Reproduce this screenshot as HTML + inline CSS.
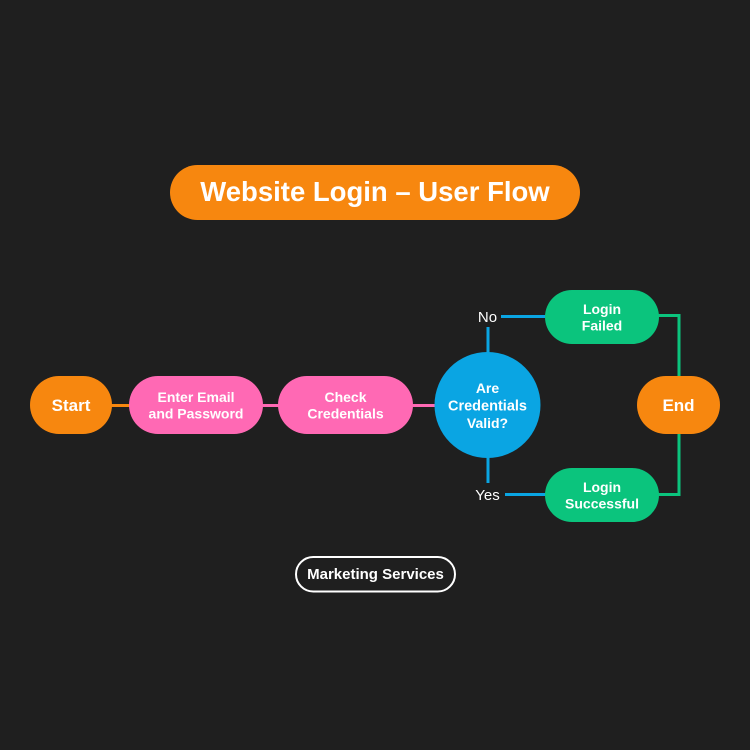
<!DOCTYPE html>
<html>
<head>
<meta charset="utf-8">
<style>
  html, body { margin: 0; padding: 0; background: #1f1f1f; }
  body { width: 750px; height: 750px; overflow: hidden; }
  svg { display: block; }
  text { font-family: "Liberation Sans", "DejaVu Sans", sans-serif; }
</style>
</head>
<body>
<svg width="750" height="750" viewBox="0 0 750 750" xmlns="http://www.w3.org/2000/svg">
  <rect width="750" height="750" fill="#1f1f1f"/>

  <!-- Title -->
  <rect x="170" y="165" width="410" height="55" rx="27.5" fill="#f7870f"/>
  <text x="375" y="201" text-anchor="middle" font-size="27.5" font-weight="bold" fill="#ffffff">Website Login – User Flow</text>

  <!-- Connectors -->
  <line x1="110" y1="405.5" x2="131" y2="405.5" stroke="#f7870f" stroke-width="3"/>
  <line x1="261" y1="405.5" x2="280" y2="405.5" stroke="#ff69b4" stroke-width="3"/>
  <line x1="411" y1="405.5" x2="437" y2="405.5" stroke="#ff69b4" stroke-width="3"/>

  <!-- Blue branches -->
  <line x1="488" y1="327" x2="488" y2="355" stroke="#0aa5e3" stroke-width="3"/>
  <line x1="501" y1="316.5" x2="547" y2="316.5" stroke="#0aa5e3" stroke-width="3"/>
  <line x1="488" y1="455" x2="488" y2="483" stroke="#0aa5e3" stroke-width="3"/>
  <line x1="505" y1="494.5" x2="547" y2="494.5" stroke="#0aa5e3" stroke-width="3"/>

  <!-- Green to End -->
  <polyline points="657,315.5 679,315.5 679,378" fill="none" stroke="#0bc47d" stroke-width="3"/>
  <polyline points="657,494.5 679,494.5 679,432" fill="none" stroke="#0bc47d" stroke-width="3"/>

  <!-- Start -->
  <rect x="30" y="376" width="82" height="58" rx="29" fill="#f7870f"/>
  <text x="71" y="411" text-anchor="middle" font-size="17" font-weight="bold" fill="#ffffff">Start</text>

  <!-- Enter Email and Password -->
  <rect x="129" y="376" width="134" height="58" rx="29" fill="#ff69b4"/>
  <text x="196" y="402" text-anchor="middle" font-size="14" font-weight="bold" fill="#ffffff">Enter Email</text>
  <text x="196" y="418.5" text-anchor="middle" font-size="14" font-weight="bold" fill="#ffffff">and Password</text>

  <!-- Check Credentials -->
  <rect x="278" y="376" width="135" height="58" rx="29" fill="#ff69b4"/>
  <text x="345.5" y="402" text-anchor="middle" font-size="14" font-weight="bold" fill="#ffffff">Check</text>
  <text x="345.5" y="418.5" text-anchor="middle" font-size="14" font-weight="bold" fill="#ffffff">Credentials</text>

  <!-- Decision circle -->
  <circle cx="487.5" cy="405" r="53" fill="#0aa5e3"/>
  <text x="487.5" y="393" text-anchor="middle" font-size="14" font-weight="bold" fill="#ffffff">Are</text>
  <text x="487.5" y="410.5" text-anchor="middle" font-size="14.5" font-weight="bold" fill="#ffffff">Credentials</text>
  <text x="487.5" y="428" text-anchor="middle" font-size="14" font-weight="bold" fill="#ffffff">Valid?</text>

  <!-- No / Yes -->
  <text x="487.5" y="322" text-anchor="middle" font-size="15" fill="#ffffff">No</text>
  <text x="487.5" y="500" text-anchor="middle" font-size="15" fill="#ffffff">Yes</text>

  <!-- Login Failed -->
  <rect x="545" y="290" width="114" height="54" rx="27" fill="#0bc47d"/>
  <text x="602" y="314" text-anchor="middle" font-size="14" font-weight="bold" fill="#ffffff">Login</text>
  <text x="602" y="330.5" text-anchor="middle" font-size="14" font-weight="bold" fill="#ffffff">Failed</text>

  <!-- Login Successful -->
  <rect x="545" y="468" width="114" height="54" rx="27" fill="#0bc47d"/>
  <text x="602" y="492" text-anchor="middle" font-size="14" font-weight="bold" fill="#ffffff">Login</text>
  <text x="602" y="508.5" text-anchor="middle" font-size="14" font-weight="bold" fill="#ffffff">Successful</text>

  <!-- End -->
  <rect x="637" y="376" width="83" height="58" rx="29" fill="#f7870f"/>
  <text x="678.5" y="411" text-anchor="middle" font-size="17" font-weight="bold" fill="#ffffff">End</text>

  <!-- Marketing Services -->
  <rect x="296" y="557" width="159" height="34.5" rx="17.25" fill="none" stroke="#ffffff" stroke-width="2"/>
  <text x="375.5" y="579" text-anchor="middle" font-size="15" font-weight="bold" fill="#ffffff">Marketing Services</text>
</svg>
</body>
</html>
